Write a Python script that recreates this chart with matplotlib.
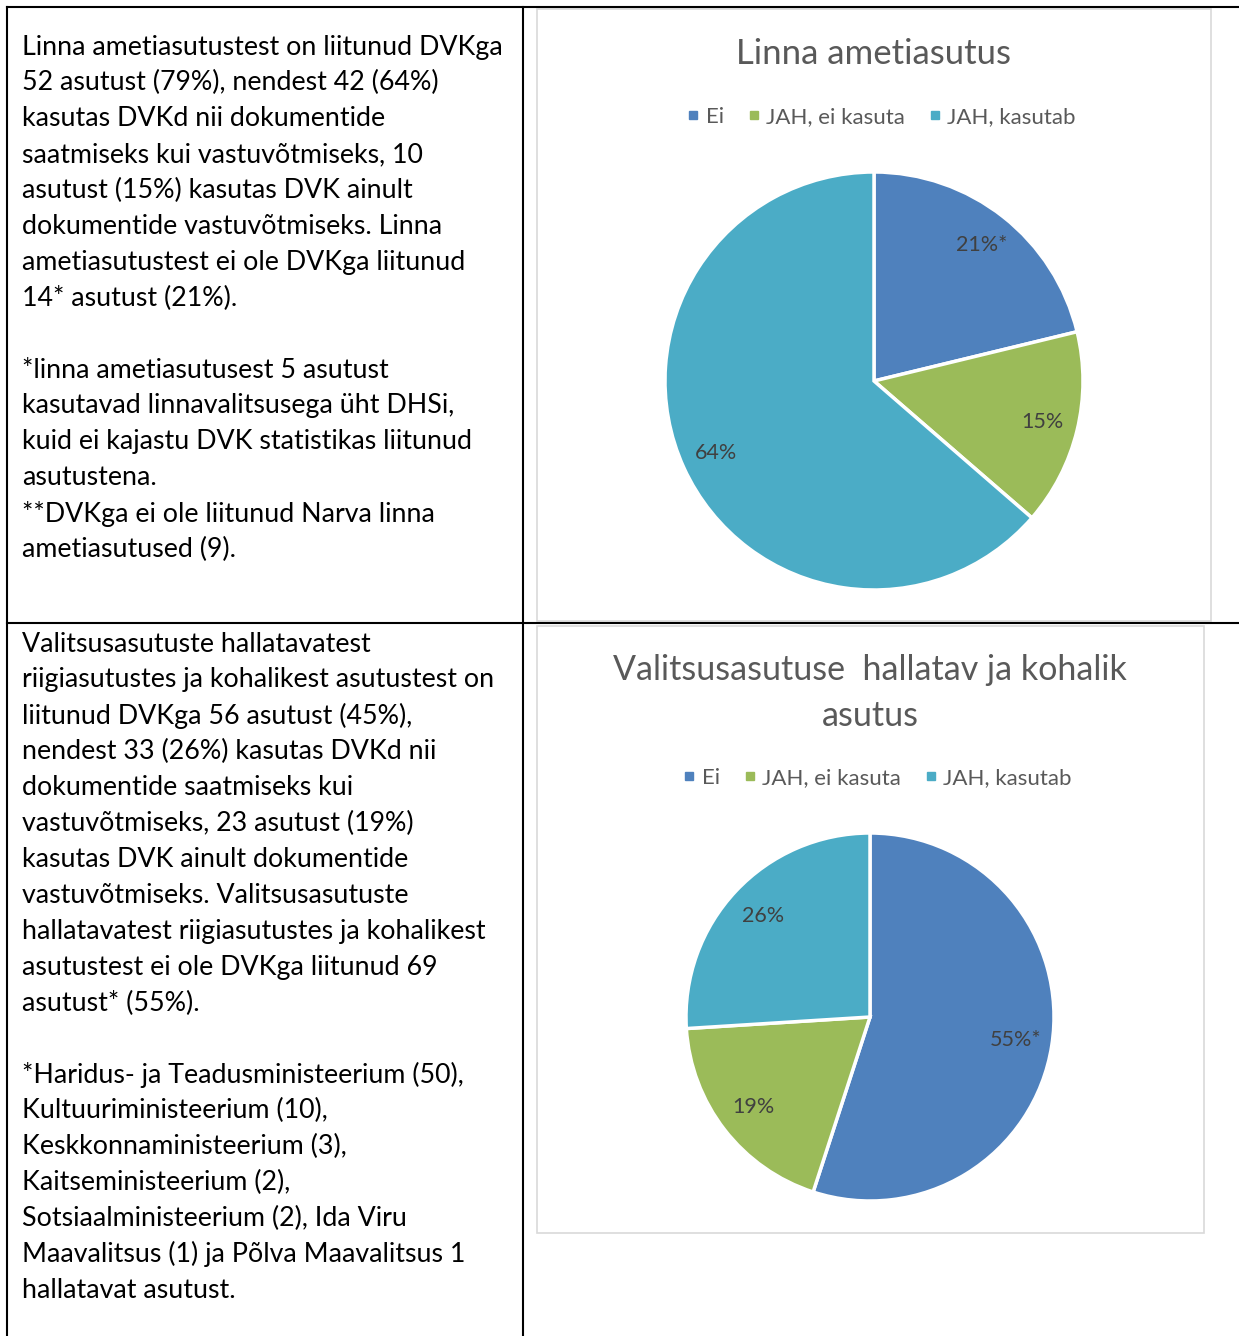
import matplotlib
matplotlib.use("Agg")
import matplotlib.pyplot as plt
from matplotlib.lines import Line2D

W, H = 1239, 1336

# data
categories = ["Ei", "JAH, ei kasuta", "JAH, kasutab"]
colors = ["#4F81BD", "#9BBB59", "#4BACC6"]

title1 = "Linna ametiasutus"
values1 = [14, 10, 42]
labels1 = ["21%*", "15%", "64%"]

title2 = "Valitsusasutuse  hallatav ja kohalik\nasutus"
values2 = [55, 19, 26]
labels2 = ["55%*", "19%", "26%"]

text1 = [
    "Linna ametiasutustest on liitunud DVKga",
    "52 asutust (79%), nendest 42 (64%)",
    "kasutas DVKd nii dokumentide",
    "saatmiseks kui vastuvõtmiseks, 10",
    "asutust (15%) kasutas DVK ainult",
    "dokumentide vastuvõtmiseks. Linna",
    "ametiasutustest ei ole DVKga liitunud",
    "14* asutust (21%).",
    "",
    "*linna ametiasutusest 5 asutust",
    "kasutavad linnavalitsusega üht DHSi,",
    "kuid ei kajastu DVK statistikas liitunud",
    "asutustena.",
    "**DVKga ei ole liitunud Narva linna",
    "ametiasutused (9).",
]

text2 = [
    "Valitsusasutuste hallatavatest",
    "riigiasutustes ja kohalikest asutustest on",
    "liitunud DVKga 56 asutust (45%),",
    "nendest 33 (26%) kasutas DVKd nii",
    "dokumentide saatmiseks kui",
    "vastuvõtmiseks, 23 asutust (19%)",
    "kasutas DVK ainult dokumentide",
    "vastuvõtmiseks. Valitsusasutuste",
    "hallatavatest riigiasutustes ja kohalikest",
    "asutustest ei ole DVKga liitunud 69",
    "asutust* (55%).",
    "",
    "*Haridus- ja Teadusministeerium (50),",
    "Kultuuriministeerium (10),",
    "Keskkonnaministeerium (3),",
    "Kaitseministeerium (2),",
    "Sotsiaalministeerium (2), Ida Viru",
    "Maavalitsus (1) ja Põlva Maavalitsus 1",
    "hallatavat asutust.",
]

plt.rcParams['font.family'] = ['Lato', 'DejaVu Sans']

fig = plt.figure(figsize=(W / 100, H / 100), dpi=100)
fig.patch.set_facecolor("white")


def fx(x):
    return x / W


def fy(y):
    return 1 - y / H


# table lines
def hline(y, x0, x1):
    fig.add_artist(Line2D([fx(x0), fx(x1)], [fy(y), fy(y)], color="black", lw=1.5))


def vline(x, y0, y1):
    fig.add_artist(Line2D([fx(x), fx(x)], [fy(y0), fy(y1)], color="black", lw=1.5))


hline(7, 7, W)
hline(623, 7, W)
vline(7, 7, H)
vline(523, 7, H)


# chart area boxes
def box(x0, y0, x1, y1):
    r = plt.Rectangle((fx(x0), fy(y1)), fx(x1 - x0), (y1 - y0) / H,
                      transform=fig.transFigure, fill=False,
                      edgecolor="#D9D9D9", lw=1.2)
    fig.add_artist(r)


box(537, 9, 1211, 621)
box(537, 626, 1204, 1233)

# left cell texts
for i, line in enumerate(text1):
    fig.text(fx(22), fy(47 + i * 35.9), line, fontsize=19.3, va="center",
             ha="left", color="black")
for i, line in enumerate(text2):
    fig.text(fx(22), fy(644 + i * 35.9), line, fontsize=19.3, va="center",
             ha="left", color="black")


def draw_pie(cx, cy, r, vals, labs, pctdist, title, ty, tsize, ly):
    pad = 1.1
    ax = fig.add_axes([fx(cx - r * pad), fy(cy + r * pad),
                       2 * r * pad / W, 2 * r * pad / H])
    wedges, texts = ax.pie(vals, colors=colors, startangle=90,
                           counterclock=False, labels=labs,
                           labeldistance=pctdist,
                           wedgeprops=dict(edgecolor="white", linewidth=2.5),
                           textprops=dict(color="#404040", fontsize=15.5,
                                          ha="center", va="center"))
    for t in texts:
        t.set_ha("center")
        t.set_va("center")
    ax.set_xlim(-pad, pad)
    ax.set_ylim(-pad, pad)
    ax.set_aspect("equal")
    ax.axis("off")
    fig.text(fx(cx), fy(ty), title, ha="center", va="center", fontsize=tsize,
             color="#595959", linespacing=1.55)
    handles = [Line2D([], [], marker="s", linestyle="", color=c, markersize=6)
               for c in colors]
    fig.legend(handles, categories, loc="center",
               bbox_to_anchor=(fx(cx + 5), fy(ly)), ncol=3, frameon=False,
               fontsize=16, labelcolor="#595959", handletextpad=0.05,
               columnspacing=0.85, handlelength=1.0)


draw_pie(874, 381, 209, values1, labels1, 0.83, title1, 54, 25, 117)
draw_pie(870, 1017, 184, values2, labels2, 0.8, title2, 693, 24.5, 778)

fig.savefig("out.png", dpi=100, facecolor="white")
